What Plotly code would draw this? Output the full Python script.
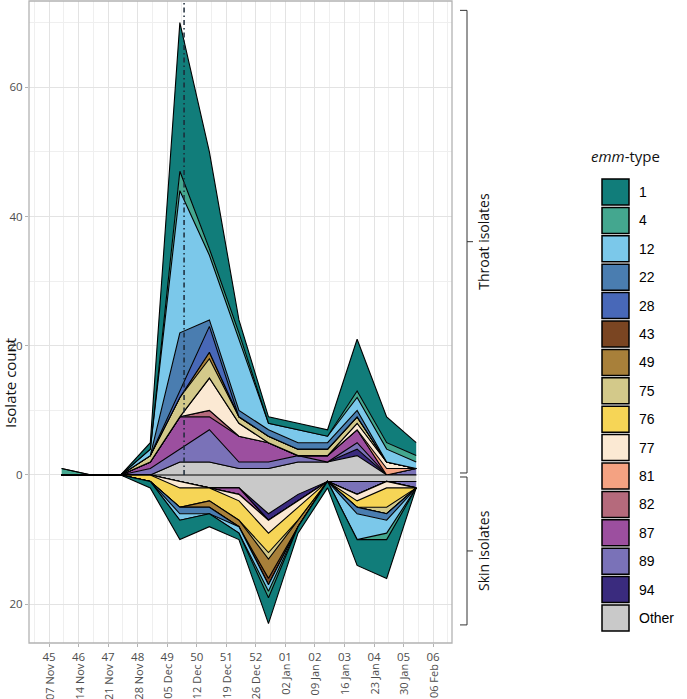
import plotly.graph_objects as go

# ---------------- data ----------------
weeks = ["45", "46", "47", "48", "49", "50", "51", "52", "01", "02", "03", "04", "05", "06"]
week_dates = ["07 Nov", "14 Nov", "21 Nov", "28 Nov", "05 Dec", "12 Dec", "19 Dec",
              "26 Dec", "02 Jan", "09 Jan", "16 Jan", "23 Jan", "30 Jan", "06 Feb"]
emm_types = ["1", "4", "12", "22", "28", "43", "49", "75", "76", "77", "81", "82", "87", "89", "94", "Other"]

# throat isolates per week (weeks 45 .. 05)
throat_1     = [0, 0, 0, 1, 23, 15, 2, 1, 1, 1, 8, 4, 2]
throat_4     = [1, 0, 0, 0, 3, 1, 1, 0, 0, 0, 1, 1, 1]
throat_12    = [0, 0, 0, 1, 22, 10, 11, 1, 2, 1, 2, 2, 1]
throat_22    = [0, 0, 0, 0, 9, 1, 1, 1, 1, 1, 1, 0, 0]
throat_28    = [0, 0, 0, 0, 1, 4, 0, 0, 0, 0, 0, 0, 0]
throat_43    = [0, 0, 0, 0, 0, 0, 0, 0, 0, 0, 0, 0, 0]
throat_49    = [0, 0, 0, 0, 0, 1, 0, 0, 0, 0, 0, 0, 0]
throat_75    = [0, 0, 0, 1, 3, 3, 1, 1, 1, 1, 1, 0, 0]
throat_76    = [0, 0, 0, 0, 0, 0, 0, 0, 0, 0, 0, 0, 0]
throat_77    = [0, 0, 0, 0, 0, 5, 2, 0, 0, 0, 1, 1, 0]
throat_81    = [0, 0, 0, 0, 0, 0, 0, 0, 0, 0, 0, 1, 0]
throat_82    = [0, 0, 0, 0, 0, 1, 0, 0, 0, 0, 0, 0, 0]
throat_87    = [0, 0, 0, 1, 5, 2, 4, 3, 0, 1, 2, 0, 0]
throat_89    = [0, 0, 0, 1, 2, 5, 1, 1, 1, 0, 1, 0, 1]
throat_94    = [0, 0, 0, 0, 0, 0, 0, 0, 0, 0, 1, 0, 0]
throat_other = [0, 0, 0, 0, 2, 2, 1, 1, 2, 2, 3, 0, 0]

# skin isolates per week (weeks 45 .. 05)
skin_1     = [0, 0, 0, 1, 3, 2, 1, 4, 1, 1, 4, 6, 0]
skin_4     = [0, 0, 0, 0, 0, 0, 0, 1, 0, 0, 0, 1, 0]
skin_12    = [0, 0, 0, 0, 1, 0, 1, 1, 0, 0, 4, 2, 0]
skin_22    = [0, 0, 0, 0, 1, 1, 0, 0, 0, 0, 1, 1, 0]
skin_28    = [0, 0, 0, 0, 0, 0, 0, 0, 0, 0, 0, 0, 0]
skin_43    = [0, 0, 0, 0, 0, 0, 0, 1, 0, 0, 0, 0, 0]
skin_49    = [0, 0, 0, 0, 0, 1, 1, 3, 1, 0, 0, 0, 0]
skin_75    = [0, 0, 0, 0, 0, 0, 0, 1, 0, 0, 0, 1, 0]
skin_76    = [0, 0, 0, 1, 3, 2, 3, 3, 2, 0, 1, 3, 0]
skin_77    = [0, 0, 0, 0, 1, 0, 1, 2, 1, 0, 1, 1, 0]
skin_81    = [0, 0, 0, 0, 0, 0, 0, 0, 0, 0, 0, 0, 0]
skin_82    = [0, 0, 0, 0, 0, 0, 0, 0, 0, 0, 0, 0, 0]
skin_87    = [0, 0, 0, 0, 0, 0, 1, 0, 0, 0, 0, 0, 0]
skin_89    = [0, 0, 0, 0, 0, 0, 0, 0, 0, 0, 2, 0, 1]
skin_94    = [0, 0, 0, 0, 0, 0, 0, 1, 1, 0, 0, 0, 0]
skin_other = [0, 0, 0, 0, 1, 2, 2, 6, 3, 1, 1, 1, 1]

throat = [throat_1, throat_4, throat_12, throat_22, throat_28, throat_43, throat_49, throat_75,
          throat_76, throat_77, throat_81, throat_82, throat_87, throat_89, throat_94, throat_other]
skin = [skin_1, skin_4, skin_12, skin_22, skin_28, skin_43, skin_49, skin_75,
        skin_76, skin_77, skin_81, skin_82, skin_87, skin_89, skin_94, skin_other]

# ---------------- style ----------------
colors = ["#117d7a", "#44a78f", "#7bc8ea", "#4a7db0", "#4868b8", "#7a4522", "#a8803a", "#d3c98a",
          "#f6d556", "#fbe9d3", "#f4a282", "#b56a7c", "#9c4f9f", "#7a72b8", "#3a2b7e", "#c9c9c9"]

W, H = 687, 699
ML, MR, MT, MB = 29, 235, 1, 56
PW, PH = W - ML - MR, H - MT - MB


def px2x(px):
    return (px - ML) / PW


def px2y(py):
    return (H - MB - py) / PH


xs = [i + 3 / 7 for i in range(len(throat_1))]
alert_x = 4 + 4 / 7
YMAX, YMIN = 73.35, -26.0

fig = go.Figure()

# stack from the zero line outward: Other first, type 1 last
for k in reversed(range(len(emm_types))):
    fig.add_trace(go.Scatter(
        x=xs, y=throat[k], stackgroup="throat", mode="lines",
        line=dict(color="black", width=1.1, shape="linear"),
        fillcolor=colors[k], name=emm_types[k], hoverinfo="skip", showlegend=False))
for k in reversed(range(len(emm_types))):
    fig.add_trace(go.Scatter(
        x=xs, y=[-v for v in skin[k]], stackgroup="skin", mode="lines",
        line=dict(color="black", width=1.1, shape="linear"),
        fillcolor=colors[k], name=emm_types[k], hoverinfo="skip", showlegend=False))

# zero baseline of the areas
fig.add_trace(go.Scatter(x=[xs[0], xs[-1]], y=[0, 0], mode="lines",
                         line=dict(color="black", width=1.2), hoverinfo="skip", showlegend=False))

shapes = []
# dash-dot marker line
shapes.append(dict(type="line", xref="x", yref="y", x0=alert_x, x1=alert_x, y0=0, y1=YMAX,
                   line=dict(color="#1c2a38", width=1.5, dash="5px,3px,1.5px,3px")))
# panel border
shapes.append(dict(type="rect", xref="paper", yref="paper", x0=0, x1=1, y0=0, y1=1,
                   line=dict(color="#b3b3b3", width=1.3)))

# brackets on the right
bx, bl, br = px2x(467), px2x(460), px2x(473)
for (ytop, ybot) in [(71.9, 0.31), (-0.31, -23.2)]:
    ymid = (ytop + ybot) / 2
    shapes.append(dict(type="line", xref="paper", yref="y", x0=bx, x1=bx, y0=ybot, y1=ytop,
                       line=dict(color="#333333", width=1)))
    for yy in (ytop, ybot):
        shapes.append(dict(type="line", xref="paper", yref="y", x0=bl, x1=bx, y0=yy, y1=yy,
                           line=dict(color="#333333", width=1)))
    shapes.append(dict(type="line", xref="paper", yref="y", x0=bx, x1=br, y0=ymid, y1=ymid,
                       line=dict(color="#333333", width=1)))

annotations = []
annotations.append(dict(text="Throat isolates", xref="paper", yref="y", x=px2x(484), y=(71.9 + 0.31) / 2,
                        xanchor="center", yanchor="middle",
                        textangle=-90, showarrow=False, font=dict(size=14, color="#111", family="Open Sans")))
annotations.append(dict(text="Skin isolates", xref="paper", yref="y", x=px2x(484), y=(-0.31 - 23.2) / 2,
                        xanchor="center", yanchor="middle",
                        textangle=-90, showarrow=False, font=dict(size=14, color="#111", family="Open Sans")))

# date labels under week numbers
for i, d in enumerate(week_dates):
    annotations.append(dict(text=d, xref="x", yref="paper", x=i, y=px2y(662), yanchor="top",
                            xanchor="center", textangle=-90, showarrow=False,
                            font=dict(size=11, color="#4d4d4d", family="Open Sans")))

# y axis title
annotations.append(dict(text="Isolate count", xref="paper", yref="paper", x=px2x(10), y=px2y(383),
                        xanchor="center", yanchor="middle",
                        textangle=-90, showarrow=False, font=dict(size=15, color="#111", family="Open Sans")))

# legend (drawn manually)
annotations.append(dict(text="<i>emm</i>-type", xref="paper", yref="paper", x=px2x(589), y=px2y(156),
                        xanchor="left", yanchor="middle", showarrow=False,
                        font=dict(size=15, color="#111", family="Open Sans")))
for i, t in enumerate(emm_types):
    cy = 192 + 28.4 * i
    shapes.append(dict(type="rect", xref="paper", yref="paper", x0=px2x(602), x1=px2x(629),
                       y0=px2y(cy + 13), y1=px2y(cy - 13), fillcolor=colors[i],
                       line=dict(color="black", width=1.5)))
    annotations.append(dict(text=t, xref="paper", yref="paper", x=px2x(637), y=px2y(cy),
                            xanchor="left", yanchor="middle", showarrow=False,
                            font=dict(size=14, color="black", family="Liberation Sans")))

fig.update_layout(
    width=W, height=H, margin=dict(l=ML, r=MR, t=MT, b=MB, autoexpand=False),
    paper_bgcolor="white", plot_bgcolor="white", showlegend=False,
    shapes=shapes, annotations=annotations,
    xaxis=dict(range=[-0.677, 13.64], tickmode="array", tickvals=list(range(len(weeks))), ticktext=weeks,
               automargin=False,
               showgrid=True, gridcolor="#e3e3e3", gridwidth=1, zeroline=False, showline=False,
               ticks="outside", ticklen=3, tickcolor="#b3b3b3", tickangle=0,
               tickfont=dict(size=11.5, color="#4d4d4d", family="Open Sans"),
               minor=dict(tickmode="array", tickvals=[i + 0.5 for i in range(-1, len(weeks))],
                          showgrid=True, gridcolor="#efefef", gridwidth=1, ticks="")),
    yaxis=dict(range=[YMIN, YMAX], tickmode="array", tickvals=[-20, 0, 20, 40, 60],
               ticktext=["20", "0", "20", "40", "60"], automargin=False,
               showgrid=True, gridcolor="#e3e3e3", gridwidth=1, zeroline=False, showline=False,
               ticks="outside", ticklen=3, tickcolor="#b3b3b3",
               tickfont=dict(size=11.5, color="#4d4d4d", family="Open Sans"),
               minor=dict(tickmode="array", tickvals=[-10, 10, 30, 50, 70],
                          showgrid=True, gridcolor="#efefef", gridwidth=1, ticks="")),
)

fig.write_html("out.html", config={"displayModeBar": False},
               post_script="document.body.style.margin='0px';document.body.style.overflow='hidden';")
